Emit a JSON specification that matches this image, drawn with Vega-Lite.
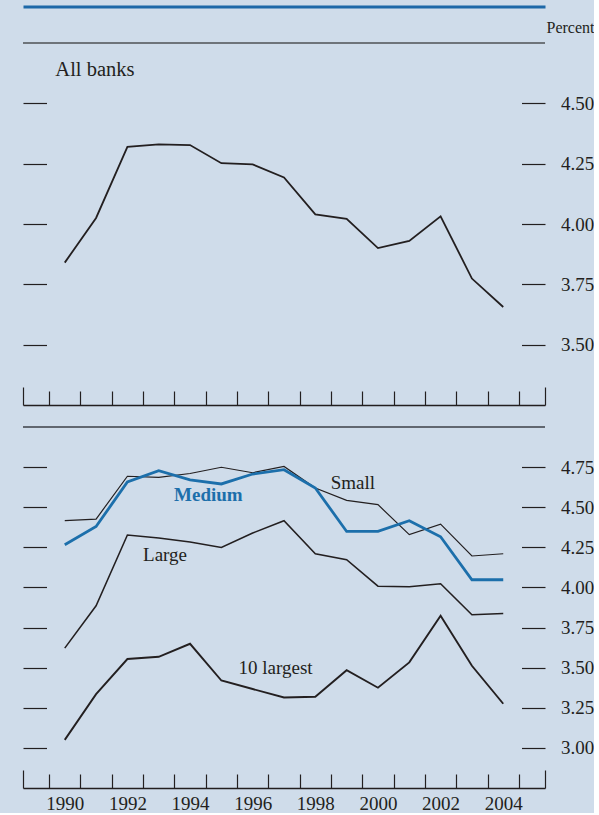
{
  "$schema": "https://vega.github.io/schema/vega-lite/v6.json",
  "background": "#cfdcea",
  "padding": {"left": 22, "top": 6, "right": 0, "bottom": 0},
  "spacing": 20,
  "config": {
    "view": {"stroke": null},
    "font": "Liberation Serif",
    "axis": {
      "labelFont": "Liberation Serif",
      "titleFont": "Liberation Serif",
      "labelColor": "#231f20",
      "titleColor": "#231f20",
      "tickColor": "#231f20",
      "domainColor": "#231f20",
      "grid": false
    }
  },
  "datasets": {
    "all": [
      {"year": 1990, "value": 3.84},
      {"year": 1991, "value": 4.025},
      {"year": 1992, "value": 4.32},
      {"year": 1993, "value": 4.33},
      {"year": 1994, "value": 4.327},
      {"year": 1995, "value": 4.252},
      {"year": 1996, "value": 4.247},
      {"year": 1997, "value": 4.193},
      {"year": 1998, "value": 4.04},
      {"year": 1999, "value": 4.021},
      {"year": 2000, "value": 3.9},
      {"year": 2001, "value": 3.93},
      {"year": 2002, "value": 4.032},
      {"year": 2003, "value": 3.774},
      {"year": 2004, "value": 3.656}
    ],
    "groups": [
      {"series": "Small", "year": 1990, "value": 4.416},
      {"series": "Small", "year": 1991, "value": 4.426},
      {"series": "Small", "year": 1992, "value": 4.693},
      {"series": "Small", "year": 1993, "value": 4.686},
      {"series": "Small", "year": 1994, "value": 4.71},
      {"series": "Small", "year": 1995, "value": 4.749},
      {"series": "Small", "year": 1996, "value": 4.715},
      {"series": "Small", "year": 1997, "value": 4.754},
      {"series": "Small", "year": 1998, "value": 4.62},
      {"series": "Small", "year": 1999, "value": 4.543},
      {"series": "Small", "year": 2000, "value": 4.516},
      {"series": "Small", "year": 2001, "value": 4.329},
      {"series": "Small", "year": 2002, "value": 4.395},
      {"series": "Small", "year": 2003, "value": 4.196},
      {"series": "Small", "year": 2004, "value": 4.21},
      {"series": "Medium", "year": 1990, "value": 4.266},
      {"series": "Medium", "year": 1991, "value": 4.38},
      {"series": "Medium", "year": 1992, "value": 4.657},
      {"series": "Medium", "year": 1993, "value": 4.728},
      {"series": "Medium", "year": 1994, "value": 4.671},
      {"series": "Medium", "year": 1995, "value": 4.645},
      {"series": "Medium", "year": 1996, "value": 4.707},
      {"series": "Medium", "year": 1997, "value": 4.734},
      {"series": "Medium", "year": 1998, "value": 4.62},
      {"series": "Medium", "year": 1999, "value": 4.349},
      {"series": "Medium", "year": 2000, "value": 4.349},
      {"series": "Medium", "year": 2001, "value": 4.416},
      {"series": "Medium", "year": 2002, "value": 4.316},
      {"series": "Medium", "year": 2003, "value": 4.048},
      {"series": "Medium", "year": 2004, "value": 4.048},
      {"series": "Large", "year": 1990, "value": 3.622},
      {"series": "Large", "year": 1991, "value": 3.886},
      {"series": "Large", "year": 1992, "value": 4.327},
      {"series": "Large", "year": 1993, "value": 4.308},
      {"series": "Large", "year": 1994, "value": 4.283},
      {"series": "Large", "year": 1995, "value": 4.249},
      {"series": "Large", "year": 1996, "value": 4.339},
      {"series": "Large", "year": 1997, "value": 4.416},
      {"series": "Large", "year": 1998, "value": 4.21},
      {"series": "Large", "year": 1999, "value": 4.173},
      {"series": "Large", "year": 2000, "value": 4.008},
      {"series": "Large", "year": 2001, "value": 4.004},
      {"series": "Large", "year": 2002, "value": 4.023},
      {"series": "Large", "year": 2003, "value": 3.83},
      {"series": "Large", "year": 2004, "value": 3.838},
      {"series": "10 largest", "year": 1990, "value": 3.05},
      {"series": "10 largest", "year": 1991, "value": 3.335},
      {"series": "10 largest", "year": 1992, "value": 3.554},
      {"series": "10 largest", "year": 1993, "value": 3.568},
      {"series": "10 largest", "year": 1994, "value": 3.649},
      {"series": "10 largest", "year": 1995, "value": 3.42},
      {"series": "10 largest", "year": 1996, "value": 3.367},
      {"series": "10 largest", "year": 1997, "value": 3.314},
      {"series": "10 largest", "year": 1998, "value": 3.319},
      {"series": "10 largest", "year": 1999, "value": 3.484},
      {"series": "10 largest", "year": 2000, "value": 3.375},
      {"series": "10 largest", "year": 2001, "value": 3.533},
      {"series": "10 largest", "year": 2002, "value": 3.824},
      {"series": "10 largest", "year": 2003, "value": 3.512},
      {"series": "10 largest", "year": 2004, "value": 3.275}
    ]
  },
  "vconcat": [
    {
      "width": 522,
      "height": 362,
      "layer": [
        {
          "data": {"name": "all"},
          "mark": {"type": "line", "opacity": 0},
          "encoding": {
            "x": {"field": "year", "type": "quantitative",
              "scale": {"domain": [1988.6667, 2005.3333], "nice": false, "zero": false},
              "axis": {"orient": "bottom", "title": null, "labels": false, "domain": true, "domainWidth": 1.5,
                "values": [1989.5, 1990.5, 1991.5, 1992.5, 1993.5, 1994.5, 1995.5, 1996.5, 1997.5, 1998.5, 1999.5, 2000.5, 2001.5, 2002.5, 2003.5, 2004.5],
                "tickSize": -14, "tickWidth": 1.2}},
            "y": {"field": "value", "type": "quantitative",
              "scale": {"domain": [3.25, 4.75], "nice": false, "zero": false},
              "axis": {"orient": "left", "title": null, "labels": false, "domain": false,
                "values": [3.5, 3.75, 4, 4.25, 4.5], "tickSize": -23.5, "tickWidth": 1.2}}
          }
        },
        {
          "data": {"name": "all"},
          "mark": {"type": "line", "color": "#231f20", "strokeWidth": 1.8},
          "encoding": {
            "x": {"field": "year", "type": "quantitative",
              "scale": {"domain": [1988.6667, 2005.3333], "nice": false, "zero": false},
              "axis": {"orient": "top", "title": null, "labels": false, "ticks": false, "domain": true,
                "offset": 36.5, "domainColor": "#1d68a8", "domainWidth": 3}},
            "y": {"field": "value", "type": "quantitative",
              "scale": {"domain": [3.25, 4.75], "nice": false, "zero": false},
              "axis": {"orient": "right", "domain": false, "values": [3.5, 3.75, 4, 4.25, 4.5],
                "format": ".2f", "labelFontSize": 19, "labelPadding": 39, "tickSize": -23.5, "tickWidth": 1.2,
                "title": "Percent", "titleAngle": 0, "titleAlign": "left", "titleBaseline": "alphabetic",
                "titleX": 1, "titleY": -10.7, "titleFontSize": 16, "titleFontWeight": "normal"}}
          }
        },
        {
          "data": {"name": "all"},
          "mark": {"type": "line", "opacity": 0},
          "encoding": {
            "x": {"field": "year", "type": "quantitative",
              "scale": {"domain": [1988.6667, 2005.3333], "nice": false, "zero": false},
              "axis": {"orient": "bottom", "title": null, "labels": false, "domain": false,
                "values": [1988.6667, 2005.3333], "tickSize": -18, "tickWidth": 1.2}},
            "y": {"field": "value", "type": "quantitative", "axis": null}
          }
        },
        {
          "data": {"values": [{}]},
          "mark": {"type": "rule", "color": "#6e747a", "strokeWidth": 2},
          "encoding": {"y": {"datum": 4.75, "type": "quantitative", "axis": null}}
        },
        {
          "data": {"values": [{}]},
          "mark": {"type": "text", "text": "All banks", "align": "left", "baseline": "alphabetic",
            "fontSize": 20.5, "font": "Liberation Serif", "color": "#231f20"},
          "encoding": {
            "x": {"datum": 1989.7, "type": "quantitative", "axis": null},
            "y": {"datum": 4.612, "type": "quantitative", "axis": null}
          }
        }
      ],
      "resolve": {"axis": {"x": "independent", "y": "independent"}}
    },
    {
      "width": 522,
      "height": 361,
      "layer": [
        {
          "data": {"name": "groups"},
          "mark": {"type": "line", "opacity": 0},
          "encoding": {
            "detail": {"field": "series"},
            "x": {"field": "year", "type": "quantitative",
              "scale": {"domain": [1988.6667, 2005.3333], "nice": false, "zero": false},
              "axis": {"orient": "bottom", "title": null, "labels": false, "domain": true, "domainWidth": 1.5,
                "values": [1989.5, 1990.5, 1991.5, 1992.5, 1993.5, 1994.5, 1995.5, 1996.5, 1997.5, 1998.5, 1999.5, 2000.5, 2001.5, 2002.5, 2003.5, 2004.5],
                "tickSize": -14, "tickWidth": 1.2}},
            "y": {"field": "value", "type": "quantitative",
              "scale": {"domain": [2.75, 5.0], "nice": false, "zero": false},
              "axis": {"orient": "left", "title": null, "labels": false, "domain": false,
                "values": [3, 3.25, 3.5, 3.75, 4, 4.25, 4.5, 4.75], "tickSize": -23.5, "tickWidth": 1.2}}
          }
        },
        {
          "data": {"name": "groups"},
          "transform": [{"filter": "datum.series != 'Medium'"}],
          "mark": {"type": "line", "color": "#231f20"},
          "encoding": {
            "detail": {"field": "series"},
            "strokeWidth": {"field": "series", "type": "nominal",
              "scale": {"domain": ["Small", "Large", "10 largest"], "range": [1.2, 1.9, 1.9]}, "legend": null},
            "x": {"field": "year", "type": "quantitative",
              "scale": {"domain": [1988.6667, 2005.3333], "nice": false, "zero": false},
              "axis": {"orient": "bottom", "title": null, "ticks": false, "domain": false,
                "values": [1990, 1992, 1994, 1996, 1998, 2000, 2002, 2004], "format": "d",
                "labelFontSize": 19, "labelBaseline": "alphabetic", "labelPadding": 21}},
            "y": {"field": "value", "type": "quantitative",
              "scale": {"domain": [2.75, 5.0], "nice": false, "zero": false},
              "axis": {"orient": "right", "title": null, "domain": false,
                "values": [3, 3.25, 3.5, 3.75, 4, 4.25, 4.5, 4.75],
                "format": ".2f", "labelFontSize": 19, "labelPadding": 39, "tickSize": -23.5, "tickWidth": 1.2}}
          }
        },
        {
          "data": {"name": "groups"},
          "transform": [{"filter": "datum.series == 'Medium'"}],
          "mark": {"type": "line", "color": "#1c6fab", "strokeWidth": 2.8},
          "encoding": {
            "x": {"field": "year", "type": "quantitative", "axis": null},
            "y": {"field": "value", "type": "quantitative", "axis": null}
          }
        },
        {
          "data": {"name": "groups"},
          "mark": {"type": "line", "opacity": 0},
          "encoding": {
            "detail": {"field": "series"},
            "x": {"field": "year", "type": "quantitative",
              "scale": {"domain": [1988.6667, 2005.3333], "nice": false, "zero": false},
              "axis": {"orient": "bottom", "title": null, "labels": false, "domain": false,
                "values": [1988.6667, 2005.3333], "tickSize": -18, "tickWidth": 1.2}},
            "y": {"field": "value", "type": "quantitative", "axis": null}
          }
        },
        {
          "data": {"values": [{}]},
          "mark": {"type": "rule", "color": "#3c4147", "strokeWidth": 1.3},
          "encoding": {"y": {"datum": 5.0, "type": "quantitative", "axis": null}}
        },
        {
          "data": {"values": [{}]},
          "mark": {"type": "text", "text": "Small", "align": "left", "baseline": "alphabetic",
            "fontSize": 19, "font": "Liberation Serif", "color": "#231f20"},
          "encoding": {
            "x": {"datum": 1998.49, "type": "quantitative", "axis": null},
            "y": {"datum": 4.615, "type": "quantitative", "axis": null}
          }
        },
        {
          "data": {"values": [{}]},
          "mark": {"type": "text", "text": "Medium", "align": "left", "baseline": "alphabetic",
            "fontSize": 19, "fontWeight": "bold", "font": "Liberation Serif", "color": "#1c6fab"},
          "encoding": {
            "x": {"datum": 1993.49, "type": "quantitative", "axis": null},
            "y": {"datum": 4.536, "type": "quantitative", "axis": null}
          }
        },
        {
          "data": {"values": [{}]},
          "mark": {"type": "text", "text": "Large", "align": "left", "baseline": "alphabetic",
            "fontSize": 19, "font": "Liberation Serif", "color": "#231f20"},
          "encoding": {
            "x": {"datum": 1992.5, "type": "quantitative", "axis": null},
            "y": {"datum": 4.166, "type": "quantitative", "axis": null}
          }
        },
        {
          "data": {"values": [{}]},
          "mark": {"type": "text", "text": "10 largest", "align": "left", "baseline": "alphabetic",
            "fontSize": 19, "font": "Liberation Serif", "color": "#231f20"},
          "encoding": {
            "x": {"datum": 1995.55, "type": "quantitative", "axis": null},
            "y": {"datum": 3.462, "type": "quantitative", "axis": null}
          }
        }
      ],
      "resolve": {"axis": {"x": "independent", "y": "independent"}}
    }
  ]
}
